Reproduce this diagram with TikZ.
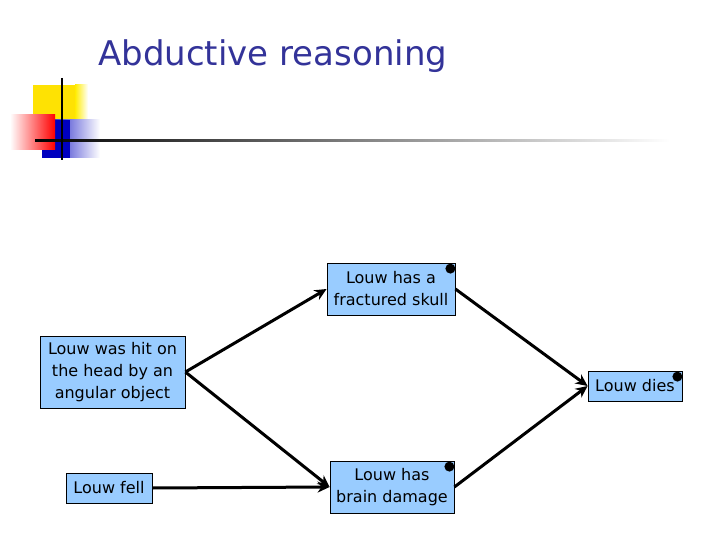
\documentclass[tikz,border=0pt]{standalone}
\usepackage{fontspec}
\setmainfont{DejaVu Sans}
\usetikzlibrary{arrows.meta,positioning}
\definecolor{boxblue}{RGB}{153,204,255}
\definecolor{titleblue}{RGB}{51,51,153}
\begin{document}
\begin{tikzpicture}[x=1pt,y=-1pt,
  box/.style={draw=black,fill=boxblue,line width=0.8pt,inner sep=0pt,align=center,font=\fontsize{16}{22}\selectfont},
  arr/.style={line width=3pt,-{Stealth[length=12pt,width=11pt]}},
  dot/.style={fill=black,circle,inner sep=0pt,minimum size=10pt}]
\useasboundingbox (0,0) rectangle (720,540);
% decoration
\fill[yellow!85!orange] (33,85) rectangle (75,135);
\shade[left color=yellow!85!orange,right color=white] (75,85) rectangle (88,135);
\shade[left color=blue!75!black,right color=white] (42,120) rectangle (100,158);
\fill[blue!75!black] (42,120) rectangle (70,158);
\shade[left color=white,right color=red] (10,115) rectangle (55,150);
\shade[left color=black,middle color=gray,right color=white] (35,139.5) rectangle (670,142);
\draw[line width=1.5pt] (62,78) -- (62,160);
\node[anchor=base west,text=titleblue,font=\fontsize{34}{38}\selectfont,inner sep=0pt] (title) at (98,66) {Abductive reasoning};
% boxes
\node[box,minimum width=128pt,minimum height=52pt] (skull) at (391,289) {Louw has a\\fractured skull};
\node[box,minimum width=145pt,minimum height=72pt] (hit) at (112.5,372) {Louw was hit on\\the head by an\\angular object};
\node[box,minimum width=94pt,minimum height=30pt] (dies) at (635,386) {Louw dies};
\node[box,minimum width=86pt,minimum height=30pt] (fell) at (109,488) {Louw fell};
\node[box,minimum width=124pt,minimum height=52pt] (brain) at (392,487) {Louw has\\brain damage};
\node[dot] (d1) at ([xshift=-5pt,yshift=-6pt]skull.north east) {};
\node[dot] (d2) at ([xshift=-5pt,yshift=-6pt]dies.north east) {};
\node[dot] (d3) at ([xshift=-5pt,yshift=-6pt]brain.north east) {};
% arrows
\draw[arr] (hit.east) -- (skull.west);
\draw[arr] (hit.east) -- (brain.west);
\draw[arr] (fell.east) -- (brain.west);
\draw[arr] (skull.east) -- (dies.west);
\draw[arr] (brain.east) -- (dies.west);
\end{tikzpicture}
\end{document}
